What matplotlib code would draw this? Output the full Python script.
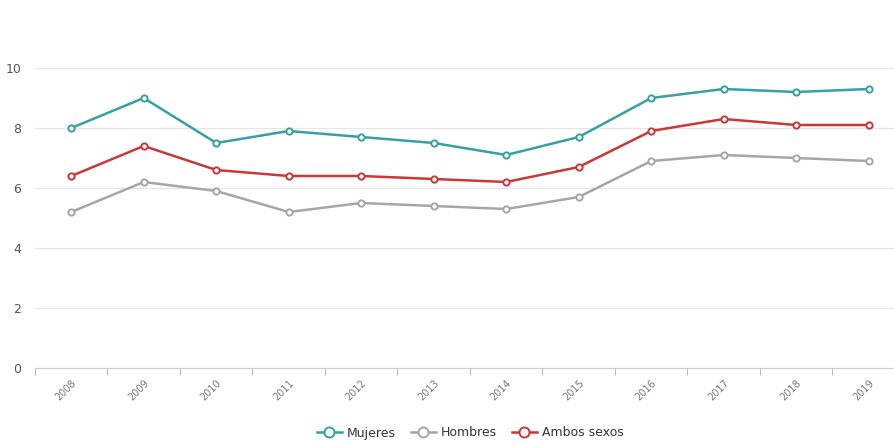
import numpy as np
import matplotlib.pyplot as plt

# datos
years = ['2008', '2009', '2010', '2011', '2012', '2013', '2014', '2015', '2016', '2017', '2018', '2019']
mujeres = [8.0, 9.0, 7.5, 7.9, 7.7, 7.5, 7.1, 7.7, 9.0, 9.3, 9.2, 9.3]
hombres = [5.2, 6.2, 5.9, 5.2, 5.5, 5.4, 5.3, 5.7, 6.9, 7.1, 7.0, 6.9]
ambos = [6.4, 7.4, 6.6, 6.4, 6.4, 6.3, 6.2, 6.7, 7.9, 8.3, 8.1, 8.1]
series = ['Mujeres', 'Hombres', 'Ambos sexos']
colores = ['#35a1a3', '#a6a6a6', '#c93838']

fig = plt.figure(figsize=(8.95, 4.43), dpi=100)
ax = fig.add_axes([35/895, 75/443, 870/895, 300/443])

x = np.arange(len(years))
for vals, name, c in zip([mujeres, hombres, ambos], series, colores):
    ax.plot(x, vals, '-', color=c, lw=1.8, marker='o', ms=4.5,
            mfc='white', mec=c, mew=1.4, label=name, zorder=3)

ax.set_xlim(-0.5, len(years) - 0.5)
ax.set_ylim(0, 10)
ax.set_yticks(range(0, 11, 2))
ax.grid(axis='y', color='#e6e6e6', lw=1)
ax.set_axisbelow(True)

# ticks en los limites de categoria, etiquetas en el centro
ax.set_xticks(np.arange(-0.5, len(years), 1))
ax.set_xticklabels([])
ax.set_xticks(x, minor=True)
ax.set_xticklabels(years, minor=True, rotation=45, ha='right',
                   rotation_mode='anchor', fontsize=7, color='#777777')
ax.tick_params(axis='x', which='major', length=5, color='#bbbbbb', direction='out')
ax.tick_params(axis='x', which='minor', length=0, pad=7)
ax.tick_params(axis='y', length=0, labelsize=9, colors='#555555', pad=10)

for s in ['top', 'right', 'left']:
    ax.spines[s].set_visible(False)
ax.spines['bottom'].set_color('#cccccc')

fig.legend(loc='center', bbox_to_anchor=(470/895, 1 - 433/443), ncol=3,
           frameon=False, fontsize=9, handlelength=2.0, columnspacing=1.2,
           handletextpad=0.4, labelcolor='#333333', markerscale=1.6)

plt.savefig('out.png', dpi=100)
